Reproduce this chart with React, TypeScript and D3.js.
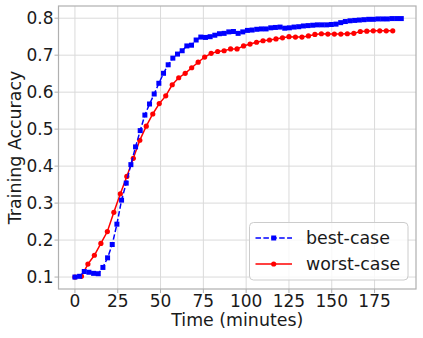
import React from "react";
import * as d3 from "d3";

const bestStep = 2.723;
const worstStep = 3.788;

const bestCase = [
  0.100, 0.102, 0.115, 0.113, 0.110, 0.109, 0.126, 0.152, 0.188, 0.243,
  0.308, 0.354, 0.404, 0.452, 0.496, 0.538, 0.568, 0.595, 0.624, 0.651,
  0.674, 0.692, 0.703, 0.712, 0.725, 0.727, 0.741, 0.749, 0.748, 0.750,
  0.754, 0.758, 0.759, 0.763, 0.764, 0.759, 0.763, 0.767, 0.768, 0.770,
  0.771, 0.771, 0.774, 0.775, 0.776, 0.773, 0.774, 0.776, 0.777, 0.779,
  0.780, 0.781, 0.782, 0.782, 0.782, 0.783, 0.784, 0.788, 0.791, 0.793,
  0.794, 0.795, 0.796, 0.797, 0.797, 0.798, 0.798, 0.798, 0.799, 0.799, 0.799,
];

const worstCase = [
  0.100, 0.102, 0.135, 0.159, 0.191, 0.223, 0.275, 0.325, 0.372, 0.421,
  0.470, 0.508, 0.541, 0.569, 0.590, 0.620, 0.639, 0.651, 0.666, 0.681,
  0.695, 0.705, 0.710, 0.712, 0.717, 0.717, 0.725, 0.730, 0.735, 0.739,
  0.741, 0.744, 0.747, 0.750, 0.749, 0.749, 0.752, 0.756, 0.758, 0.757,
  0.757, 0.757, 0.758, 0.759, 0.764, 0.765, 0.766, 0.766, 0.766, 0.766,
];

const xTicks = [0, 25, 50, 75, 100, 125, 150, 175];
const yTicks = [0.1, 0.2, 0.3, 0.4, 0.5, 0.6, 0.7, 0.8];
const legendLabels = ["best-case", "worst-case"];

const FONT = "'DejaVu Sans', sans-serif";

export default function App() {
  const left = 58.5, right = 416, top = 6, bottom = 289;
  const x = d3.scaleLinear().domain([-9.6, 199.2]).range([left, right]);
  const y = d3.scaleLinear().domain([0.0677, 0.833]).range([bottom, top]);

  const bestPts = bestCase.map((v, i) => [i * bestStep, v] as [number, number]);
  const worstPts = worstCase.map((v, i) => [i * worstStep, v] as [number, number]);
  const line = d3.line<[number, number]>().x((d) => x(d[0])).y((d) => y(d[1]));

  const gridColor = "#dadada";
  const spineColor = "#b0b0b0";

  return (
    <svg width={423} height={338} style={{ position: "absolute", left: 0, top: 0 }}>
      <rect x={0} y={0} width={423} height={338} fill="white" />
      {xTicks.map((t) => (
        <line key={"gx" + t} x1={x(t)} x2={x(t)} y1={top} y2={bottom} stroke={gridColor} strokeWidth={1} />
      ))}
      {yTicks.map((t) => (
        <line key={"gy" + t} x1={left} x2={right} y1={y(t)} y2={y(t)} stroke={gridColor} strokeWidth={1} />
      ))}
      <path d={line(worstPts) || ""} fill="none" stroke="#ff0000" strokeWidth={1.5} />
      {worstPts.map((d, i) => (
        <circle key={"w" + i} cx={x(d[0])} cy={y(d[1])} r={2.6} fill="#ff0000" />
      ))}
      <path d={line(bestPts) || ""} fill="none" stroke="#0000ff" strokeWidth={1.5} strokeDasharray="5.5,2.4" />
      {bestPts.map((d, i) => (
        <rect key={"b" + i} x={x(d[0]) - 2.5} y={y(d[1]) - 2.5} width={5} height={5} fill="#0000ff" />
      ))}
      <rect x={left} y={top} width={right - left} height={bottom - top} fill="none" stroke={spineColor} strokeWidth={1.2} />
      {xTicks.map((t) => (
        <g key={"xt" + t}>
          <line x1={x(t)} x2={x(t)} y1={bottom} y2={bottom + 4} stroke={spineColor} strokeWidth={1} />
          <text x={x(t)} y={307} textAnchor="middle" fontFamily={FONT} fontSize={17} fill="#1a1a1a">
            {t}
          </text>
        </g>
      ))}
      {yTicks.map((t) => (
        <g key={"yt" + t}>
          <line x1={left - 4} x2={left} y1={y(t)} y2={y(t)} stroke={spineColor} strokeWidth={1} />
          <text x={53.5} y={y(t) + 6} textAnchor="end" fontFamily={FONT} fontSize={17} fill="#1a1a1a">
            {t.toFixed(1)}
          </text>
        </g>
      ))}
      <text x={(left + right) / 2} y={326} textAnchor="middle" fontFamily={FONT} fontSize={17.4} fill="#1a1a1a">
        Time (minutes)
      </text>
      <text
        transform={`translate(20.5, ${(top + bottom) / 2}) rotate(-90)`}
        textAnchor="middle"
        fontFamily={FONT}
        fontSize={17.4}
        fill="#1a1a1a"
      >
        Training Accuracy
      </text>
      <rect x={249.5} y={222.5} width={158.5} height={57.5} rx={4} ry={4} fill="white" fillOpacity={0.8} stroke="#cccccc" strokeWidth={1} />
      <line x1={255.5} x2={292} y1={238} y2={238} stroke="#0000ff" strokeWidth={1.5} strokeDasharray="5.5,2.4" />
      <rect x={273.7 - 2.5} y={238 - 2.5} width={5} height={5} fill="#0000ff" />
      <text x={306} y={244} fontFamily={FONT} fontSize={17.4} fill="#1a1a1a">
        {legendLabels[0]}
      </text>
      <line x1={255.5} x2={292} y1={264} y2={264} stroke="#ff0000" strokeWidth={1.5} />
      <circle cx={273.7} cy={264} r={2.6} fill="#ff0000" />
      <text x={306} y={270} fontFamily={FONT} fontSize={17.4} fill="#1a1a1a">
        {legendLabels[1]}
      </text>
    </svg>
  );
}
